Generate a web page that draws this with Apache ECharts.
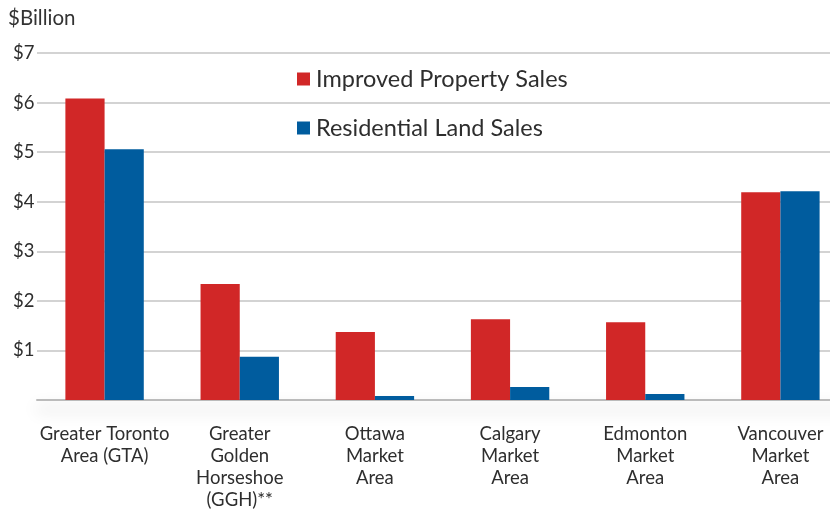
<!DOCTYPE html>
<html>
<head>
<meta charset="utf-8">
<script src="https://cdn.jsdelivr.net/npm/echarts@6/dist/echarts.min.js"></script>
<style>
    html, body { margin: 0; padding: 0; background: #fff; }
    #chart { width: 830px; height: 509px; }
</style>
</head>
<body>
<div id="chart"></div>
<script>
    var categories = [
        'Greater Toronto\nArea (GTA)',
        'Greater\nGolden\nHorseshoe\n(GGH)**',
        'Ottawa\nMarket\nArea',
        'Calgary\nMarket\nArea',
        'Edmonton\nMarket\nArea',
        'Vancouver\nMarket\nArea'
    ];
    var improvedSales = [6.08, 2.34, 1.37, 1.63, 1.57, 4.19];
    var landSales = [5.06, 0.87, 0.08, 0.26, 0.12, 4.21];
    var yTicks = [0, 1, 2, 3, 4, 5, 6, 7];

    var font = 'Lato, "Open Sans", sans-serif';
    var chart = echarts.init(document.getElementById('chart'));

    var option = {
        animation: false,
        textStyle: { fontFamily: font },
        title: {
            text: '$Billion',
            left: 3,
            top: 3,
            textStyle: { fontFamily: font, fontSize: 20.5, fontWeight: 'normal', color: '#333' }
        },
        legend: {
            orient: 'vertical',
            left: 292,
            top: 62,
            itemGap: 25,
            itemWidth: 13,
            itemHeight: 13,
            icon: 'rect',
            textStyle: { fontFamily: font, fontSize: 23.5, color: '#2e2e2e', padding: [0, 0, 0, 1] },
            data: ['Improved Property Sales', 'Residential Land Sales']
        },
        grid: { left: 37, top: 53, width: 811, height: 347, containLabel: false, outerBoundsMode: 'none' },
        xAxis: {
            type: 'category',
            data: categories,
            axisTick: { show: false },
            axisLine: {
                lineStyle: {
                    color: '#bbb', width: 2,
                    shadowColor: 'rgba(0,0,0,0.3)', shadowBlur: 16, shadowOffsetY: 9
                }
            },
            axisLabel: {
                interval: 0,
                margin: 23,
                fontSize: 18.5,
                lineHeight: 22,
                color: '#2e2e2e',
                fontFamily: font
            }
        },
        yAxis: {
            type: 'value',
            min: yTicks[0],
            max: yTicks[yTicks.length - 1],
            interval: 1,
            axisLine: { show: false },
            axisTick: { show: false },
            splitLine: { lineStyle: { color: '#c4c4c4', width: 1.5 } },
            axisLabel: {
                fontSize: 18.5,
                color: '#2e2e2e',
                fontFamily: font,
                margin: 0,
                align: 'left',
                padding: [0, 0, 0, -24],
                formatter: function (v) { return v === 0 ? '' : '$' + v; }
            }
        },
        series: [
            {
                name: 'Improved Property Sales',
                type: 'bar',
                data: improvedSales,
                barGap: '0%',
                barCategoryGap: '42%',
                itemStyle: { color: '#D12727' }
            },
            {
                name: 'Residential Land Sales',
                type: 'bar',
                data: landSales,
                itemStyle: { color: '#005C9E' }
            }
        ]
    };

    chart.setOption(option);
</script>
</body>
</html>
